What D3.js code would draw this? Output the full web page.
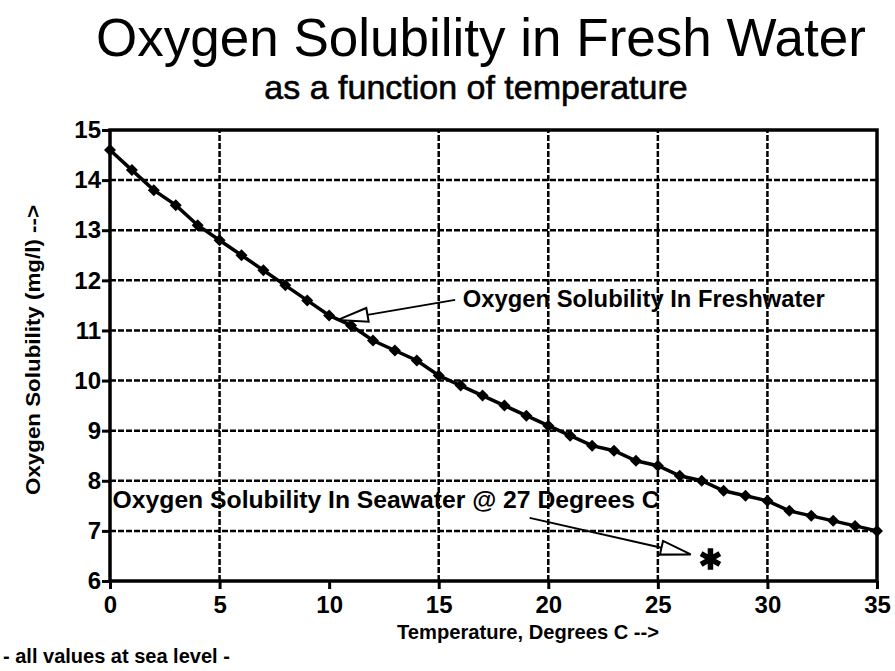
<!DOCTYPE html>
<html>
<head>
<meta charset="utf-8">
<script src="https://cdn.jsdelivr.net/npm/d3@7"></script>
<style>
  body { margin: 0; background: #fff; }
</style>
</head>
<body>
<script>
// fresh water O2 solubility at sea level, mg/l
const temperature = [0, 1, 2, 3, 4, 5, 6, 7, 8, 9, 10, 11, 12, 13, 14, 15, 16, 17,
                     18, 19, 20, 21, 22, 23, 24, 25, 26, 27, 28, 29, 30, 31, 32, 33, 34, 35];
const freshwater = [14.6, 14.2, 13.8, 13.5, 13.1, 12.8, 12.5, 12.2, 11.9, 11.6, 11.3, 11.1,
                    10.8, 10.6, 10.4, 10.1, 9.9, 9.7, 9.5, 9.3, 9.1, 8.9, 8.7, 8.6,
                    8.4, 8.3, 8.1, 8.0, 7.8, 7.7, 7.6, 7.4, 7.3, 7.2, 7.1, 7.0];
const xTicks = [0, 5, 10, 15, 20, 25, 30, 35];
const yTicks = [6, 7, 8, 9, 10, 11, 12, 13, 14, 15];
const xGrid = [5, 15, 20, 25, 30];      // the original has no line at 10
const yGrid = [7, 8, 9, 10, 11, 12, 13, 14];
const seawater27 = [27.4, 6.44];

const width = 895, height = 671;
const font = "'Liberation Sans', Arial, Helvetica, sans-serif";

const x = d3.scaleLinear().domain([0, 35]).range([110, 877]);
const y = d3.scaleLinear().domain([6, 15]).range([581, 130]);

const svg = d3.select("body").append("svg")
    .attr("width", width)
    .attr("height", height)
    .attr("font-family", font)
    .attr("fill", "#000");

// titles
svg.append("text")
    .attr("x", 481).attr("y", 56)
    .attr("text-anchor", "middle")
    .attr("font-size", 53)
    .text("Oxygen Solubility in Fresh Water");

svg.append("text")
    .attr("x", 476).attr("y", 99)
    .attr("text-anchor", "middle")
    .attr("font-size", 34)
    .attr("stroke", "#000")
    .attr("stroke-width", 0.6)
    .text("as a function of temperature");

// grid
svg.append("g")
    .selectAll("line")
    .data(yGrid)
    .join("line")
    .attr("x1", x(0)).attr("x2", x(35))
    .attr("y1", d => y(d)).attr("y2", d => y(d))
    .attr("stroke", "#000")
    .attr("stroke-width", 2.5)
    .attr("stroke-dasharray", "6,2");

svg.append("g")
    .selectAll("line")
    .data(xGrid)
    .join("line")
    .attr("x1", d => x(d)).attr("x2", d => x(d))
    .attr("y1", y(6)).attr("y2", y(15))
    .attr("stroke", "#000")
    .attr("stroke-width", 2.5)
    .attr("stroke-dasharray", "6,2");

// axes
const yAxis = svg.append("g")
    .attr("transform", `translate(${x(0)},0)`)
    .call(d3.axisLeft(y).tickValues(yTicks).tickSize(8).tickPadding(1));

const xAxis = svg.append("g")
    .attr("transform", `translate(0,${y(6)})`)
    .call(d3.axisBottom(x).tickValues(xTicks).tickSize(8).tickPadding(7));

[xAxis, yAxis].forEach(g => {
  g.select(".domain").remove();
  g.selectAll(".tick line").attr("stroke", "#000").attr("stroke-width", 3);
  g.selectAll(".tick text")
      .attr("fill", "#000")
      .attr("font-family", font)
      .attr("font-weight", "bold")
      .attr("font-size", 24);
});

// frame
svg.append("rect")
    .attr("x", x(0)).attr("y", y(15))
    .attr("width", x(35) - x(0))
    .attr("height", y(6) - y(15))
    .attr("fill", "none")
    .attr("stroke", "#000")
    .attr("stroke-width", 3.5);

// axis titles
svg.append("text")
    .attr("transform", `translate(40,350) rotate(-90)`)
    .attr("text-anchor", "middle")
    .attr("font-size", 20)
    .attr("font-weight", "bold")
    .attr("textLength", 290)
    .attr("lengthAdjust", "spacingAndGlyphs")
    .text("Oxygen Solubility (mg/l) -->");

svg.append("text")
    .attr("x", 659).attr("y", 639)
    .attr("text-anchor", "end")
    .attr("font-size", 21)
    .attr("font-weight", "bold")
    .attr("textLength", 262)
    .attr("lengthAdjust", "spacingAndGlyphs")
    .text("Temperature, Degrees C -->");

svg.append("text")
    .attr("x", 3).attr("y", 663)
    .attr("font-size", 20)
    .attr("font-weight", "bold")
    .text("- all values at sea level -");

// curve
const line = d3.line()
    .x((d, i) => x(temperature[i]))
    .y(d => y(d));

svg.append("path")
    .datum(freshwater)
    .attr("fill", "none")
    .attr("stroke", "#000")
    .attr("stroke-width", 3.5)
    .attr("d", line);

svg.append("g")
    .selectAll("path")
    .data(freshwater)
    .join("path")
    .attr("transform", (d, i) => `translate(${x(temperature[i])},${y(d)}) rotate(45)`)
    .attr("d", d3.symbol(d3.symbolSquare, 72));

// annotations
function arrow(from, to) {
  const x0 = x(from[0]), y0 = y(from[1]);
  const x1 = x(to[0]), y1 = y(to[1]);
  const a = Math.atan2(y1 - y0, x1 - x0);
  const len = 30, hw = 7;
  const bx = x1 - len * Math.cos(a), by = y1 - len * Math.sin(a);
  const px = -Math.sin(a) * hw, py = Math.cos(a) * hw;
  const g = svg.append("g")
      .attr("fill", "none")
      .attr("stroke", "#000")
      .attr("stroke-width", 2);
  g.append("line")
      .attr("x1", x0).attr("y1", y0)
      .attr("x2", bx).attr("y2", by);
  g.append("path")
      .attr("fill", "#fff")
      .attr("d", `M${x1},${y1}L${bx + px},${by + py}L${bx - px},${by - py}Z`);
}

arrow([15.75, 11.61], [10.4, 11.21]);
svg.append("text")
    .attr("x", x(16.1)).attr("y", y(11.47))
    .attr("font-size", 24)
    .attr("font-weight", "bold")
    .attr("textLength", 362)
    .attr("lengthAdjust", "spacingAndGlyphs")
    .text("Oxygen Solubility In Freshwater");

arrow([19.15, 7.26], [26.5, 6.53]);
svg.append("text")
    .attr("x", x(0.12)).attr("y", y(7.46))
    .attr("font-size", 24)
    .attr("font-weight", "bold")
    .attr("textLength", 547)
    .attr("lengthAdjust", "spacingAndGlyphs")
    .text("Oxygen Solubility In Seawater @ 27 Degrees C");

svg.append("path")
    .attr("transform", `translate(${x(seawater27[0])},${y(seawater27[1])})`)
    .attr("d", d3.symbol(d3.symbolAsterisk, 330))
    .attr("fill", "none")
    .attr("stroke", "#000")
    .attr("stroke-width", 5.5);
</script>
</body>
</html>
